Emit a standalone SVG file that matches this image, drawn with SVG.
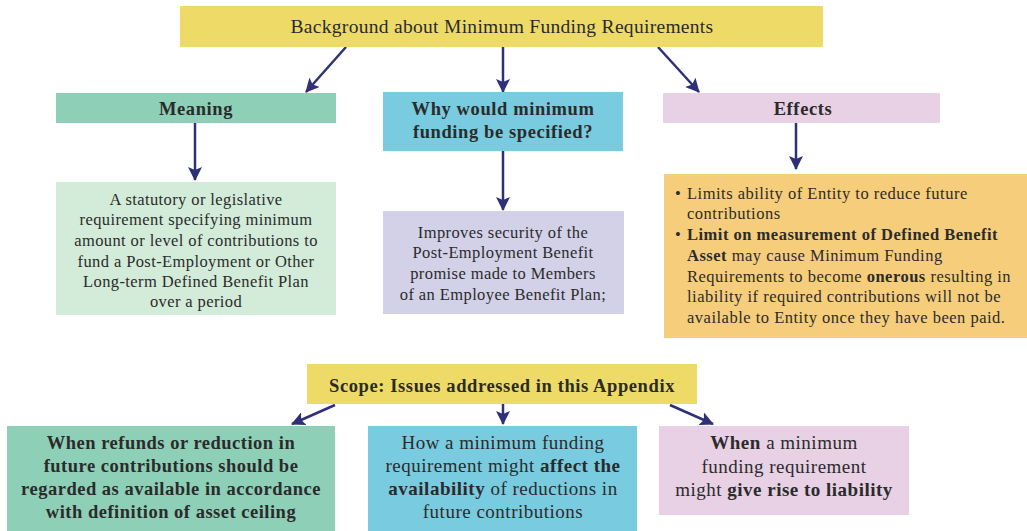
<svg xmlns="http://www.w3.org/2000/svg" width="1027" height="531" viewBox="0 0 1027 531">
<defs>
<marker id="ah" viewBox="0 0 14 14" refX="13" refY="7" markerWidth="14" markerHeight="14" markerUnits="userSpaceOnUse" orient="auto">
<path d="M0,0 L14,7 L0,14 L3,7 z" fill="#2e3178"/>
</marker>
<style>
text{font-family:"Liberation Serif","DejaVu Serif",serif;fill:#2b2b2b;text-anchor:middle}
.t{font-size:19.5px;letter-spacing:0.3px}
.h{font-size:18.5px;font-weight:bold;letter-spacing:0.6px}
.b{font-size:16.5px;letter-spacing:0.4px}
.l{font-size:16.5px;letter-spacing:0.5px;text-anchor:start}
.bb{font-size:18.5px;font-weight:bold;letter-spacing:0.5px}
.bm{font-size:19px;letter-spacing:0.5px}
.w{font-weight:bold}
.c line{stroke:#2e3178;stroke-width:2.5;marker-end:url(#ah)}
</style>
</defs>
<rect width="1027" height="531" fill="#ffffff"/>
<g class="c" id="connectors">
<line x1="346" y1="47" x2="306" y2="92"/>
<line x1="503" y1="47" x2="503" y2="92"/>
<line x1="658" y1="47" x2="699" y2="92"/>
<line x1="195" y1="123" x2="195" y2="180"/>
<line x1="503" y1="151" x2="503" y2="210"/>
<line x1="796" y1="123" x2="796" y2="169"/>
<line x1="335" y1="405" x2="292" y2="424"/>
<line x1="503" y1="404" x2="503" y2="424"/>
<line x1="670" y1="405" x2="713" y2="424"/>
</g>
<g id="top">
<rect x="180" y="6" width="643" height="41" fill="#eedb67"/>
<text class="t" x="502" y="33">Background about Minimum Funding Requirements</text>
</g>
<g id="meaning">
<rect x="56" y="93" width="280" height="30" fill="#8ecfb7"/>
<text class="h" x="196" y="115">Meaning</text>
</g>
<g id="why">
<rect x="383" y="92" width="240" height="59" fill="#79cbe0"/>
<text class="h" x="503" y="115">Why would minimum</text>
<text class="h" x="503" y="138">funding be specified?</text>
</g>
<g id="effects">
<rect x="663" y="93" width="277" height="30" fill="#e8d0e5"/>
<text class="h" x="803" y="115">Effects</text>
</g>
<g id="meaning-text">
<rect x="56" y="182" width="280" height="133" fill="#d3ebd9"/>
<text class="b" x="196" y="205">A statutory or legislative</text>
<text class="b" x="196" y="225">requirement specifying minimum</text>
<text class="b" x="196" y="246">amount or level of contributions to</text>
<text class="b" x="196" y="267">fund a Post-Employment or Other</text>
<text class="b" x="196" y="287">Long-term Defined Benefit Plan</text>
<text class="b" x="196" y="307">over a period</text>
</g>
<g id="why-text">
<rect x="383" y="211" width="241" height="103" fill="#d2d1e8"/>
<text class="b" x="503" y="238">Improves security of the</text>
<text class="b" x="503" y="258">Post-Employment Benefit</text>
<text class="b" x="503" y="279">promise made to Members</text>
<text class="b" x="503" y="300">of an Employee Benefit Plan;</text>
</g>
<g id="effects-text">
<rect x="664" y="174" width="363" height="164" fill="#f6cd7a"/>
<text class="l" x="675" y="199">•</text>
<text class="l" x="687" y="199">Limits ability of Entity to reduce future</text>
<text class="l" x="687" y="219">contributions</text>
<text class="l" x="675" y="240">•</text>
<text class="l" x="687" y="240"><tspan class="w">Limit on measurement of Defined Benefit</tspan></text>
<text class="l" x="687" y="261"><tspan class="w">Asset</tspan> may cause Minimum Funding</text>
<text class="l" x="687" y="282">Requirements to become <tspan class="w">onerous</tspan> resulting in</text>
<text class="l" x="687" y="302">liability if required contributions will not be</text>
<text class="l" x="687" y="323">available to Entity once they have been paid.</text>
</g>
<g id="scope">
<rect x="307" y="364" width="390" height="40" fill="#eedb67"/>
<text class="h" x="502" y="392">Scope: Issues addressed in this Appendix</text>
</g>
<g id="scope-1">
<rect x="7" y="426" width="328" height="105" fill="#8ecfb7"/>
<text class="bb" x="171" y="449">When refunds or reduction in</text>
<text class="bb" x="171" y="472">future contributions should be</text>
<text class="bb" x="171" y="495">regarded as available in accordance</text>
<text class="bb" x="171" y="518">with definition of asset ceiling</text>
</g>
<g id="scope-2">
<rect x="368" y="426" width="269" height="105" fill="#79cbe0"/>
<text class="bm" x="503" y="449">How a minimum funding</text>
<text class="bm" x="503" y="472">requirement might <tspan class="w">affect the</tspan></text>
<text class="bm" x="503" y="495"><tspan class="w">availability</tspan> of reductions in</text>
<text class="bm" x="503" y="518">future contributions</text>
</g>
<g id="scope-3">
<rect x="659" y="426" width="250" height="89" fill="#e8d0e5"/>
<text class="bm" x="784" y="449"><tspan class="w">When</tspan> a minimum</text>
<text class="bm" x="784" y="473">funding requirement</text>
<text class="bm" x="784" y="496">might <tspan class="w">give rise to liability</tspan></text>
</g>
</svg>
